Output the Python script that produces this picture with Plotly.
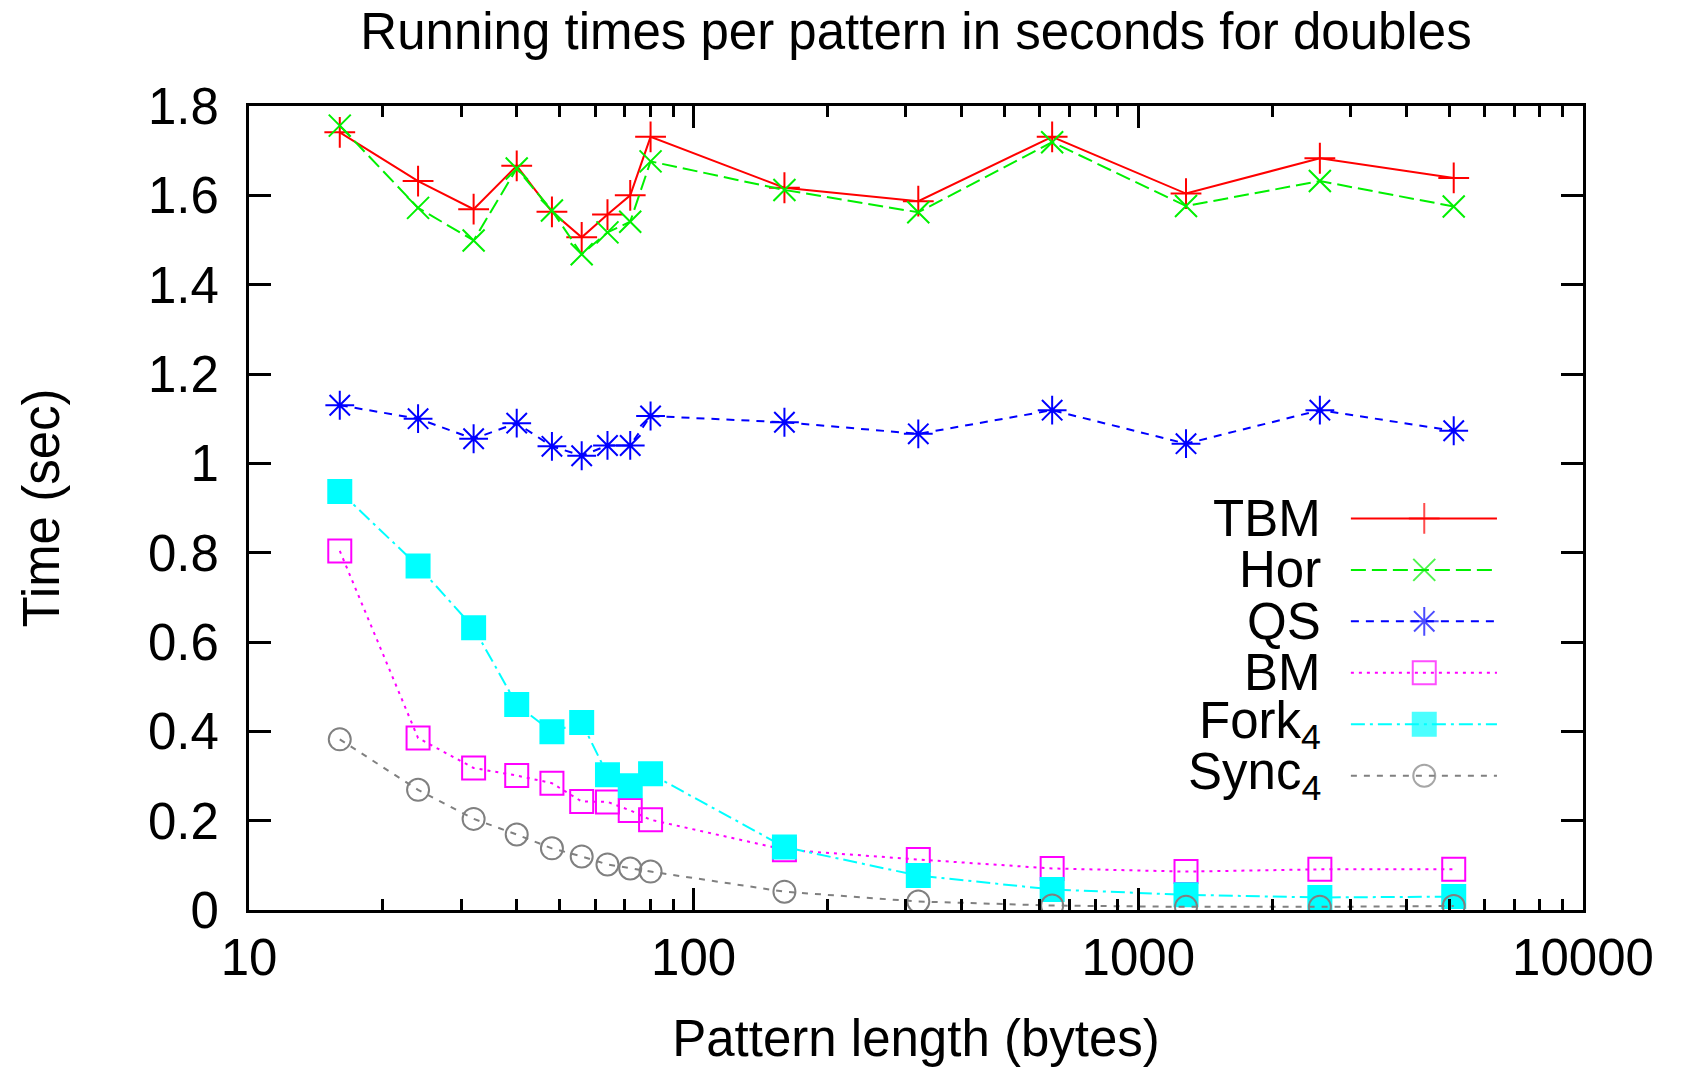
import plotly.graph_objects as go

# ---------------- data ----------------
pattern_len = [16, 24, 32, 40, 48, 56, 64, 72, 80, 160, 320, 640, 1280, 2560, 5120]

tbm = [1.741, 1.632, 1.569, 1.666, 1.563, 1.506, 1.557, 1.600, 1.731,
       1.617, 1.587, 1.731, 1.604, 1.683, 1.639]
hor = [1.756, 1.572, 1.499, 1.660, 1.566, 1.468, 1.517, 1.541, 1.676,
       1.612, 1.562, 1.719, 1.576, 1.632, 1.575]
qs = [1.130, 1.100, 1.055, 1.090, 1.038, 1.017, 1.040, 1.040, 1.106,
      1.092, 1.066, 1.119, 1.044, 1.119, 1.073]
bm = [0.804, 0.385, 0.318, 0.301, 0.284, 0.243, 0.242, 0.223, 0.202,
      0.135, 0.113, 0.093, 0.086, 0.091, 0.091]
fork4 = [0.937, 0.770, 0.632, 0.460, 0.399, 0.420, 0.303, 0.278, 0.305,
         0.141, 0.077, 0.046, 0.034, 0.028, 0.030]
sync4 = [0.382, 0.269, 0.204, 0.169, 0.138, 0.120, 0.102, 0.093, 0.086,
         0.041, 0.019, 0.010, 0.007, 0.007, 0.009]

series_names = ["TBM", "Hor", "QS", "BM", "Fork<sub>4</sub>", "Sync<sub>4</sub>"]
series_values = [tbm, hor, qs, bm, fork4, sync4]

x_major_ticks = [10, 100, 1000, 10000]
x_tick_labels = ["10", "100", "1000", "10000"]
x_minor_ticks = [m * d for d in (10, 100, 1000) for m in range(2, 10)]
y_ticks = [0, 0.2, 0.4, 0.6, 0.8, 1.0, 1.2, 1.4, 1.6, 1.8]
y_tick_labels = ["0", "0.2", "0.4", "0.6", "0.8", "1", "1.2", "1.4", "1.6", "1.8"]

# ---------------- styles ----------------
colors = ["#ff0000", "#00f000", "#0000ff", "#ff00ff", "#00ffff", "#808080"]
symbols = ["cross-thin-open", "x-thin-open", "asterisk-open", "square-open",
           "square", "circle-open"]
sizes = [22, 22, 24, 23, 23, 22]
dashes = ["solid", "15px,6px", "8px,7px", "3px,5px", "14px,5px,3px,5px", "6px,7px"]
FONT = "Liberation Sans, Arial, Helvetica, sans-serif"
FS = 51

W, H = 1684, 1069
L, R, T, B = 249, 101, 106, 159

fig = go.Figure()

for name, vals, c, s, d, ms in zip(series_names, series_values, colors, symbols, dashes, sizes):
    fig.add_trace(go.Scatter(
        x=pattern_len, y=vals, mode="lines+markers", name=name,
        line=dict(color=c, width=2, dash=d),
        marker=dict(symbol=s, size=ms, color=c,
                    line=dict(color=c, width=2)),
        showlegend=False, xaxis="x", yaxis="y"))

# ---------------- manual legend (text left, sample right) ----------------
leg_text_x = 0.8053
leg_x0, leg_xm, leg_x1 = 0.826, 0.881, 0.9355
leg_top = 0.4870
leg_step = 0.0640
for i, (name, c, s, d, ms) in enumerate(zip(series_names, colors, symbols, dashes, sizes)):
    yy = leg_top - i * leg_step
    fig.add_trace(go.Scatter(
        x=[leg_x0, leg_xm, leg_x1], y=[yy, yy, yy], mode="lines+markers",
        line=dict(color=c, width=2, dash=d),
        marker=dict(symbol=s, size=[0, ms, 0], color=c,
                    line=dict(color=c, width=2)),
        showlegend=False, hoverinfo="skip", xaxis="x2", yaxis="y2"))
    fig.add_annotation(
        x=leg_text_x, y=yy, xref="paper", yref="paper", text=name,
        showarrow=False, xanchor="right", yanchor="middle",
        font=dict(family=FONT, size=FS, color="black"))

axis_common = dict(
    showline=True, linecolor="black", linewidth=3, mirror="ticks",
    ticks="inside", tickcolor="black", tickwidth=3, ticklen=22,
    showgrid=False, zeroline=False,
    tickfont=dict(family=FONT, size=FS, color="black"),
)

fig.update_layout(
    width=W, height=H,
    margin=dict(l=L, r=R, t=T, b=B, pad=0, autoexpand=False),
    paper_bgcolor="white", plot_bgcolor="white",
    font=dict(family=FONT, size=FS, color="black"),
    title=dict(text="Running times per pattern in seconds for doubles",
               x=0.5, xref="paper", xanchor="center",
               y=1 - 31 / H, yref="container", yanchor="middle",
               font=dict(family=FONT, size=FS, color="black")),
    xaxis=dict(type="log", range=[1, 4],
               tickmode="array", tickvals=x_major_ticks, ticktext=x_tick_labels,
               ticklabelstandoff=1,
               minor=dict(tickmode="array", tickvals=x_minor_ticks,
                          ticks="inside", ticklen=11, tickwidth=3,
                          tickcolor="black", showgrid=False),
               title=dict(text="Pattern length (bytes)", standoff=36,
                          font=dict(family=FONT, size=FS, color="black")),
               **axis_common),
    yaxis=dict(range=[0, 1.8], tickmode="array", tickvals=y_ticks,
               ticktext=y_tick_labels, ticklabelstandoff=17,
               title=dict(text="Time (sec)", standoff=73,
                          font=dict(family=FONT, size=FS, color="black")),
               **axis_common),
    xaxis2=dict(range=[0, 1], overlaying="x", visible=False, fixedrange=True),
    yaxis2=dict(range=[0, 1], overlaying="y", visible=False, fixedrange=True),
    showlegend=False,
)

fig.write_html("out.html",
               config={"displayModeBar": False},
               post_script="document.body.style.margin='0';document.body.style.padding='0';")
